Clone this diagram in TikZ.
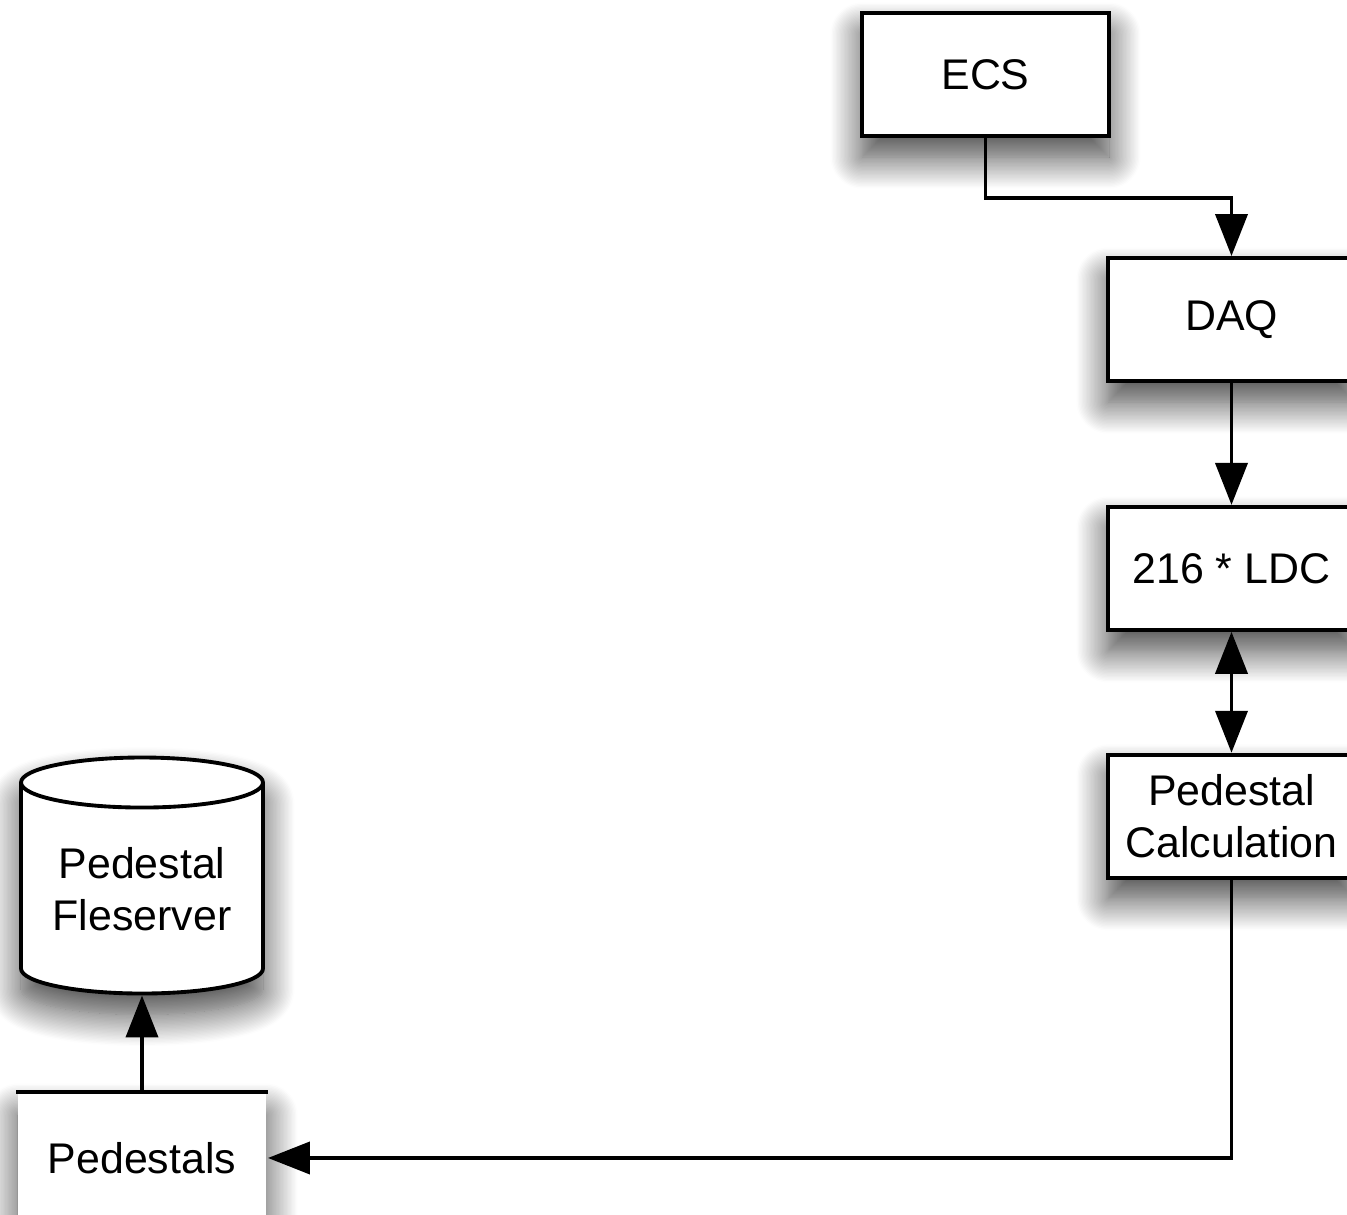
\documentclass[tikz,border=0pt]{standalone}
\usepackage{fontspec}
\setmainfont{Liberation Sans}
\usepackage{tikz}
\usetikzlibrary{arrows.meta,shapes.geometric,positioning,shadows.blur}
\usepackage{xcolor}
\tikzstyle{box} = [draw,fill=white,line width=1.1pt,minimum width=2.47cm,minimum height=1.23cm,align=center,inner sep=0pt,
  blur shadow={shadow xshift=0pt,shadow yshift=-6pt,shadow blur radius=9pt,shadow blur steps=24,shadow opacity=75}]
\tikzstyle{store} = [draw,fill=white,line width=1.1pt,cylinder,shape border rotate=90,aspect=0.28,
  minimum width=2.42cm,minimum height=2.36cm,align=center,inner sep=0pt,
  blur shadow={shadow xshift=0pt,shadow yshift=-6pt,shadow blur radius=9pt,shadow blur steps=24,shadow opacity=75}]
\tikzstyle{arrow} = [line width=1.1pt,-{Triangle[length=0.42cm,width=0.32cm]}]

\begin{document}
\begin{tikzpicture}[font=\fontsize{12.2}{14.7}\selectfont]
\useasboundingbox (0,0) rectangle (13.47,12.15);
% Boxes
\node[box] (ecs) at (9.855,11.405) {ECS};
\node[box] (daq) at (12.315,8.955) {DAQ};
\node[box,below=1.22cm of daq] (ldc) {216 * LDC};
\node[box,below=1.21cm of ldc] (calc) {Pedestal\\Calculation};
\node[store] (fs) at (1.42,3.26) {Pedestal\\Fleserver};
\node[box,draw=none,minimum width=2.48cm,minimum height=1.28cm] (ped) at (1.42,0.57) {Pedestals};
\draw[line width=1.1pt] (ped.north west) -- (ped.north east);

% Arrows
\draw[arrow] (ecs.south) -- ++(0,-0.6) -| (daq.north);
\draw[arrow] (daq) -- (ldc);
\draw[arrow,{Triangle[length=0.42cm,width=0.32cm]}-{Triangle[length=0.42cm,width=0.32cm]}] (ldc) -- (calc);
\draw[arrow] (calc.south) |- (ped.east);
\draw[arrow] (ped.north) -- (fs.south);
\end{tikzpicture}
\end{document}
